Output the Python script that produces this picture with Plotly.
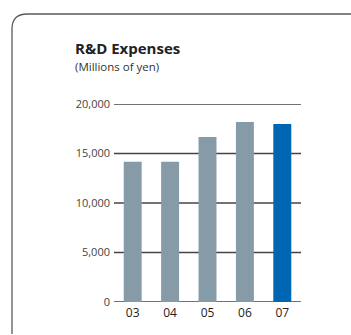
import plotly.graph_objects as go

# Fiscal years and R&D expenses (millions of yen)
years = ["03", "04", "05", "06", "07"]
expenses = [14170, 14170, 16670, 18180, 17980]
bar_colors = ["#869ba8", "#869ba8", "#869ba8", "#869ba8", "#0066b3"]
y_ticks = [0, 5000, 10000, 15000, 20000]
y_tick_text = ["0", "5,000", "10,000", "15,000", "20,000"]

W, H = 351, 335
L, R, T, B = 114, 301, 104, 302  # plot area in pixels


def px(x):
    return (x - L) / (R - L)


def py(y):
    return (B - y) / (B - T)


fig = go.Figure(
    go.Bar(
        x=years,
        y=expenses,
        marker=dict(color=bar_colors, line=dict(width=0)),
        width=0.48,
    )
)

# Horizontal rules at each tick, drawn behind the bars
for v in y_ticks:
    fig.add_shape(type="line", xref="paper", yref="y", x0=0, x1=1, y0=v, y1=v,
                  line=dict(color="#444", width=1.3), layer="below")

# Rounded panel frame (open at right and bottom)
r = 15
frame = (
    f"M {px(12)},{py(334)} L {px(12)},{py(14 + r)} "
    f"Q {px(12)},{py(14)} {px(12 + r)},{py(14)} L {px(352)},{py(14)}"
)
fig.add_shape(type="path", xref="paper", yref="paper", path=frame,
              line=dict(color="#5a5a5a", width=1.3), layer="above")

fig.add_annotation(x=px(75), y=py(48), xref="paper", yref="paper",
                   text="<b>R&D Expenses</b>", showarrow=False,
                   xanchor="left", yanchor="middle", xshift=-2,
                   font=dict(family="Open Sans", size=15, color="#222"))
fig.add_annotation(x=px(75), y=py(66), xref="paper", yref="paper",
                   text="(Millions of yen)", showarrow=False,
                   xanchor="left", yanchor="middle", xshift=-2,
                   font=dict(family="Open Sans", size=11.5, color="#333"))

fig.update_layout(
    width=W, height=H,
    margin=dict(l=L, r=W - R, t=T, b=H - B, pad=0),
    paper_bgcolor="white", plot_bgcolor="white",
    showlegend=False,
    bargap=0.52,
    font=dict(family="Open Sans", size=11, color="#444"),
)
fig.update_xaxes(
    range=[-0.5, 4.5], showgrid=False, showline=False, ticks="",
    tickfont=dict(size=12, color="#222"), ticklabelstandoff=2,
)
fig.update_yaxes(
    range=[0, 20000], tickvals=y_ticks, ticktext=y_tick_text,
    showgrid=False, zeroline=False, showline=False, ticks="",
    ticklabelstandoff=3,
)

fig.write_html("out.html")
